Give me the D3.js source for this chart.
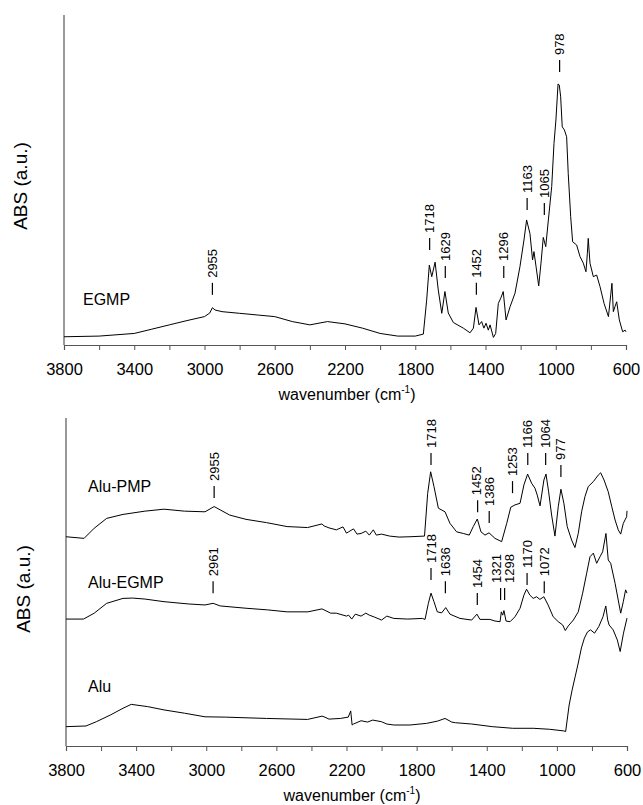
<!DOCTYPE html>
<html><head><meta charset="utf-8">
<script src="https://cdn.jsdelivr.net/npm/d3@7"></script>
<style>
body{margin:0;background:#fff;}
text{font-family:"Liberation Sans",Arial,sans-serif;fill:#000;}
</style></head>
<body>
<svg id="c" width="643" height="805"></svg>
<script>
// ---------- DATA ----------
const xTickValues = [3800,3600,3400,3200,3000,2800,2600,2400,2200,2000,1800,1600,1400,1200,1000,800,600];
const xTickLabels = ["3800","","3400","","3000","","2600","","2200","","1800","","1400","","1000","","600"];

// EGMP (top panel)
const egmpWn  = [3800,3600,3400,3300,3200,3100,3000,2970,2955,2940,2900,2800,2700,2600,2500,2400,2300,2200,2100,2000,1900,1800,1754,1735,1720,1706,1687,1669,1649,1631,1612,1583,1526,1488,1469,1454,1437,1422,1409,1397,1384,1374,1355,1342,1327,1313,1299,1283,1260,1232,1204,1181,1166,1147,1132,1124,1112,1097,1084,1071,1057,1042,1023,1010,999,987,980,972,963,951,938,929,915,904,881,862,843,828,820,815,805,786,767,748,725,700,687,680,672,663,653,638,619,605,600];
const egmpAbs = [0.025,0.027,0.035,0.048,0.061,0.074,0.086,0.097,0.113,0.106,0.101,0.096,0.091,0.086,0.071,0.061,0.071,0.064,0.051,0.035,0.027,0.027,0.033,0.136,0.242,0.207,0.251,0.167,0.096,0.162,0.097,0.068,0.051,0.037,0.051,0.114,0.061,0.071,0.051,0.066,0.045,0.061,0.023,0.035,0.126,0.142,0.162,0.076,0.116,0.157,0.237,0.318,0.379,0.338,0.258,0.283,0.237,0.179,0.248,0.326,0.298,0.379,0.48,0.611,0.682,0.791,0.788,0.752,0.661,0.652,0.631,0.52,0.389,0.313,0.303,0.268,0.248,0.222,0.278,0.323,0.248,0.207,0.212,0.177,0.126,0.086,0.152,0.187,0.101,0.116,0.131,0.076,0.04,0.045,0.04];

// Alu-PMP (bottom panel, offset trace)
const pmpWn  = [3800,3697,3639,3568,3475,3350,3241,3124,3007,2955,2866,2773,2656,2539,2422,2340,2328,2300,2258,2220,2200,2188,2160,2140,2117,2090,2070,2047,2030,2000,1954,1900,1838,1755,1737,1720,1701,1676,1638,1610,1572,1534,1500,1477,1454,1433,1410,1387,1353,1315,1286,1263,1239,1210,1188,1167,1144,1125,1112,1096,1074,1062,1047,1030,1011,992,977,960,941,916,897,878,859,840,821,792,764,750,731,707,687,668,650,636,621,602,600];
const pmpAbs = [0.638,0.633,0.664,0.694,0.706,0.716,0.722,0.716,0.714,0.730,0.704,0.691,0.681,0.669,0.666,0.677,0.671,0.665,0.659,0.668,0.649,0.653,0.662,0.646,0.648,0.655,0.643,0.659,0.643,0.646,0.640,0.637,0.638,0.640,0.770,0.836,0.791,0.725,0.714,0.679,0.653,0.648,0.643,0.669,0.692,0.653,0.643,0.650,0.633,0.623,0.679,0.728,0.735,0.740,0.796,0.829,0.801,0.786,0.765,0.732,0.811,0.829,0.775,0.704,0.640,0.730,0.783,0.740,0.669,0.628,0.605,0.648,0.714,0.760,0.791,0.806,0.826,0.833,0.811,0.775,0.730,0.689,0.659,0.646,0.679,0.699,0.717];

// Alu-EGMP
const aegWn  = [3800,3700,3639,3568,3475,3420,3350,3241,3100,3007,2961,2920,2773,2650,2539,2420,2340,2328,2290,2258,2200,2188,2170,2150,2117,2090,2070,2040,2000,1970,1930,1850,1767,1752,1733,1718,1701,1682,1657,1634,1610,1553,1486,1456,1439,1382,1353,1324,1317,1309,1302,1290,1267,1239,1210,1188,1173,1154,1135,1116,1097,1074,1050,1021,992,967,952,935,906,878,853,830,811,792,773,754,739,720,707,693,668,650,636,621,608,600];
const aegAbs = [0.387,0.387,0.405,0.435,0.450,0.451,0.448,0.440,0.433,0.430,0.435,0.427,0.420,0.415,0.409,0.409,0.418,0.415,0.405,0.405,0.396,0.399,0.387,0.402,0.396,0.405,0.399,0.393,0.384,0.396,0.389,0.387,0.389,0.386,0.435,0.466,0.440,0.409,0.406,0.422,0.402,0.389,0.384,0.402,0.386,0.386,0.381,0.379,0.409,0.399,0.413,0.381,0.379,0.394,0.420,0.460,0.478,0.460,0.450,0.455,0.447,0.455,0.430,0.394,0.379,0.369,0.352,0.366,0.384,0.409,0.466,0.527,0.577,0.588,0.557,0.577,0.592,0.648,0.567,0.557,0.496,0.445,0.405,0.440,0.476,0.466];

// Alu
const aluWn  = [3800,3686,3627,3545,3475,3428,3334,3241,3124,3007,2890,2656,2422,2340,2328,2300,2235,2190,2176,2168,2160,2117,2080,2050,2000,1970,1930,1838,1743,1680,1638,1600,1579,1486,1369,1252,1135,1042,960,950,930,913,895,878,860,843,825,808,785,761,737,721,710,702,679,655,639,620,600];
const aluAbs = [0.059,0.061,0.074,0.095,0.115,0.127,0.120,0.110,0.100,0.089,0.088,0.084,0.081,0.091,0.089,0.082,0.084,0.088,0.107,0.064,0.067,0.077,0.073,0.079,0.074,0.067,0.064,0.064,0.069,0.076,0.084,0.073,0.071,0.067,0.059,0.054,0.054,0.051,0.046,0.044,0.125,0.171,0.213,0.253,0.299,0.329,0.348,0.354,0.344,0.364,0.394,0.427,0.384,0.369,0.354,0.323,0.288,0.344,0.390];

// Peak annotations: wavenumber label and the absorbance at the foot of its marker
const egmpPeaks = [2955,1718,1629,1452,1296,1163,1065,978];
const egmpPeakAt = [0.152,0.288,0.203,0.152,0.203,0.409,0.394,0.827];
const pmpPeaks = [2955,1718,1452,1386,1253,1166,1064,977];
const pmpPeakAt = [0.756,0.857,0.713,0.680,0.771,0.857,0.857,0.820];
const aegPeaks = [2961,1718,1636,1454,1321,1298,1170,1072];
const aegPeakAt = [0.466,0.506,0.466,0.430,0.445,0.445,0.491,0.466];

const topSeriesNames = ["EGMP"];
const botSeriesNames = ["Alu-PMP","Alu-EGMP","Alu"];
const yTitle = "ABS (a.u.)";

// ---------- DRAW ----------
const svg = d3.select("#c");
const zip = (a,b)=>a.map((v,i)=>[v,b[i]]);

function panel(cfg){
  const g = svg.append("g");
  const x = d3.scaleLinear().domain([3800,600]).range([cfg.x0,cfg.x1]);
  const y = d3.scaleLinear().domain([0,1]).range([cfg.yb,cfg.yt]);
  g.append("line").attr("x1",cfg.x0).attr("x2",cfg.x0).attr("y1",cfg.yt).attr("y2",cfg.yb)
    .attr("stroke","#555").attr("stroke-width",1.2);
  const ax = d3.axisBottom(x).tickValues(xTickValues).tickSize(5).tickPadding(13)
    .tickFormat((d,i)=>xTickLabels[i]);
  const ag = g.append("g").attr("transform",`translate(0,${cfg.yb})`).call(ax);
  ag.select(".domain").attr("stroke","#555").attr("stroke-width",1.2);
  ag.selectAll(".tick line").attr("stroke","#555");
  ag.selectAll(".tick text").attr("font-size",16.5).attr("font-family","Liberation Sans, Arial, sans-serif").attr("fill","#000");
  const t = g.append("text").attr("x",cfg.xt).attr("y",cfg.ytitle).attr("text-anchor","middle").attr("font-size",16);
  t.append("tspan").text("wavenumber (cm");
  t.append("tspan").attr("font-size",10).attr("dy",-7).text("-1");
  t.append("tspan").attr("dy",7).text(")");
  g.append("text").attr("transform",`translate(${cfg.yTitleX},${cfg.yTitleY}) rotate(-90)`)
    .attr("text-anchor","middle").attr("font-size",19).text(yTitle);
  const line = d3.line().x(d=>x(d[0])).y(d=>y(d[1]));
  cfg.series.forEach(s=>{
    g.append("path").datum(zip(s.wn,s.abs)).attr("fill","none").attr("stroke","#000")
      .attr("stroke-width",1).attr("stroke-linejoin","round").attr("d",line);
    g.append("text").attr("x",cfg.nameX).attr("y",y(s.nameAt)).attr("font-size",16).text(s.name);
    if(s.peaks){
      const items = s.peaks.map((p,i)=>({p, lx:x(p), tx:x(p), yb:y(s.peakAt[i])}));
      for(let i=1;i<items.length;i++){
        const a=items[i-1], b=items[i];
        if(b.tx - a.tx < 13){ const m=(a.tx+b.tx)/2; a.tx=m-6.5; b.tx=m+6.5; }
      }
      items.forEach(it=>{
        g.append("line").attr("x1",it.lx).attr("x2",it.lx).attr("y1",it.yb).attr("y2",it.yb-12)
          .attr("stroke","#000").attr("stroke-width",1.2);
        g.append("text").attr("transform",`translate(${it.tx+4.5},${it.yb-17}) rotate(-90)`)
          .attr("font-size",13).text(it.p);
      });
    }
  });
}

panel({x0:64,x1:626,yt:15,yb:345,xt:347,ytitle:400,yTitleX:27,yTitleY:186,nameX:83,
  series:[{name:topSeriesNames[0],wn:egmpWn,abs:egmpAbs,peaks:egmpPeaks,peakAt:egmpPeakAt,nameAt:0.121}]});

panel({x0:66,x1:627,yt:418,yb:746,xt:352,ytitle:801,yTitleX:30,yTitleY:589,nameX:88,
  series:[
    {name:botSeriesNames[0],wn:pmpWn,abs:pmpAbs,peaks:pmpPeaks,peakAt:pmpPeakAt,nameAt:0.774},
    {name:botSeriesNames[1],wn:aegWn,abs:aegAbs,peaks:aegPeaks,peakAt:aegPeakAt,nameAt:0.482},
    {name:botSeriesNames[2],wn:aluWn,abs:aluAbs,nameAt:0.165}
  ]});
</script>
</body></html>
